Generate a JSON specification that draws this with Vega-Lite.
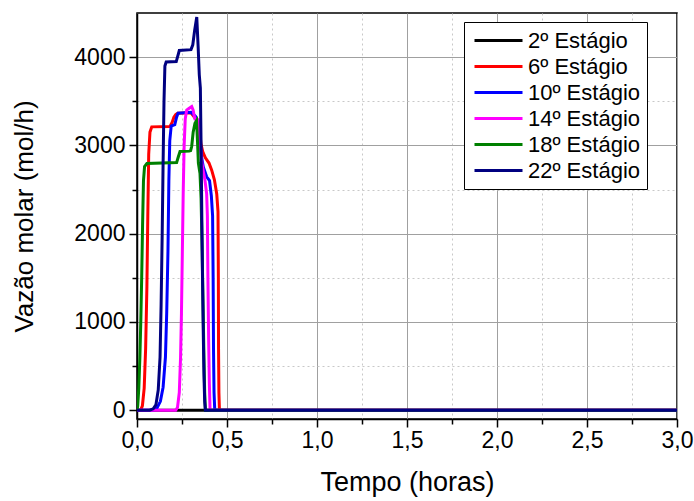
{
  "$schema": "https://vega.github.io/schema/vega-lite/v6.json",
  "width": 540,
  "height": 406,
  "autosize": {"type": "none"},
  "padding": {"left": 137, "top": 13, "right": 17, "bottom": 82},
  "background": "white",
  "config": {
    "font": "Liberation Sans",
    "view": {"stroke": "black", "strokeWidth": 1.5},
    "axis": {"labelFont": "Liberation Sans", "titleFont": "Liberation Sans", "labelColor": "black", "titleColor": "black", "titleFontWeight": "normal", "domainColor": "black", "domainWidth": 1.5, "tickColor": "black", "tickWidth": 1.5}
  },
  "data": {"values": [
    {"s": "2º Estágio", "t": 0, "v": 0},
    {"s": "2º Estágio", "t": 3, "v": 0},

    {"s": "6º Estágio", "t": 0, "v": 0},
    {"s": "6º Estágio", "t": 0.02, "v": 0},
    {"s": "6º Estágio", "t": 0.03, "v": 50},
    {"s": "6º Estágio", "t": 0.04, "v": 250},
    {"s": "6º Estágio", "t": 0.048, "v": 700},
    {"s": "6º Estágio", "t": 0.055, "v": 1400},
    {"s": "6º Estágio", "t": 0.06, "v": 2200},
    {"s": "6º Estágio", "t": 0.065, "v": 2900},
    {"s": "6º Estágio", "t": 0.072, "v": 3150},
    {"s": "6º Estágio", "t": 0.082, "v": 3210},
    {"s": "6º Estágio", "t": 0.183, "v": 3215},
    {"s": "6º Estágio", "t": 0.195, "v": 3260},
    {"s": "6º Estágio", "t": 0.205, "v": 3320},
    {"s": "6º Estágio", "t": 0.215, "v": 3350},
    {"s": "6º Estágio", "t": 0.226, "v": 3365},
    {"s": "6º Estágio", "t": 0.3, "v": 3370},
    {"s": "6º Estágio", "t": 0.315, "v": 3330},
    {"s": "6º Estágio", "t": 0.33, "v": 3290},
    {"s": "6º Estágio", "t": 0.345, "v": 3250},
    {"s": "6º Estágio", "t": 0.355, "v": 3020},
    {"s": "6º Estágio", "t": 0.365, "v": 2930},
    {"s": "6º Estágio", "t": 0.38, "v": 2860},
    {"s": "6º Estágio", "t": 0.4, "v": 2800},
    {"s": "6º Estágio", "t": 0.415, "v": 2720},
    {"s": "6º Estágio", "t": 0.43, "v": 2610},
    {"s": "6º Estágio", "t": 0.443, "v": 2450},
    {"s": "6º Estágio", "t": 0.45, "v": 2250},
    {"s": "6º Estágio", "t": 0.452, "v": 1500},
    {"s": "6º Estágio", "t": 0.453, "v": 700},
    {"s": "6º Estágio", "t": 0.455, "v": 200},
    {"s": "6º Estágio", "t": 0.458, "v": 0},
    {"s": "6º Estágio", "t": 3, "v": 0},

    {"s": "10º Estágio", "t": 0, "v": 0},
    {"s": "10º Estágio", "t": 0.09, "v": 0},
    {"s": "10º Estágio", "t": 0.11, "v": 20},
    {"s": "10º Estágio", "t": 0.13, "v": 100},
    {"s": "10º Estágio", "t": 0.145, "v": 260},
    {"s": "10º Estágio", "t": 0.158, "v": 600},
    {"s": "10º Estágio", "t": 0.165, "v": 1100},
    {"s": "10º Estágio", "t": 0.172, "v": 1800},
    {"s": "10º Estágio", "t": 0.177, "v": 2600},
    {"s": "10º Estágio", "t": 0.182, "v": 3050},
    {"s": "10º Estágio", "t": 0.19, "v": 3220},
    {"s": "10º Estágio", "t": 0.21, "v": 3235},
    {"s": "10º Estágio", "t": 0.22, "v": 3320},
    {"s": "10º Estágio", "t": 0.228, "v": 3365},
    {"s": "10º Estágio", "t": 0.3, "v": 3375},
    {"s": "10º Estágio", "t": 0.325, "v": 3330},
    {"s": "10º Estágio", "t": 0.345, "v": 3150},
    {"s": "10º Estágio", "t": 0.36, "v": 2850},
    {"s": "10º Estágio", "t": 0.368, "v": 2757},
    {"s": "10º Estágio", "t": 0.387, "v": 2644},
    {"s": "10º Estágio", "t": 0.403, "v": 2600},
    {"s": "10º Estágio", "t": 0.413, "v": 2430},
    {"s": "10º Estágio", "t": 0.42, "v": 2200},
    {"s": "10º Estágio", "t": 0.423, "v": 1500},
    {"s": "10º Estágio", "t": 0.425, "v": 700},
    {"s": "10º Estágio", "t": 0.428, "v": 200},
    {"s": "10º Estágio", "t": 0.432, "v": 0},
    {"s": "10º Estágio", "t": 3, "v": 0},

    {"s": "14º Estágio", "t": 0, "v": 0},
    {"s": "14º Estágio", "t": 0.215, "v": 0},
    {"s": "14º Estágio", "t": 0.225, "v": 30},
    {"s": "14º Estágio", "t": 0.235, "v": 200},
    {"s": "14º Estágio", "t": 0.242, "v": 600},
    {"s": "14º Estágio", "t": 0.247, "v": 1100},
    {"s": "14º Estágio", "t": 0.252, "v": 1800},
    {"s": "14º Estágio", "t": 0.257, "v": 2500},
    {"s": "14º Estágio", "t": 0.262, "v": 3000},
    {"s": "14º Estágio", "t": 0.268, "v": 3300},
    {"s": "14º Estágio", "t": 0.276, "v": 3400},
    {"s": "14º Estágio", "t": 0.29, "v": 3420},
    {"s": "14º Estágio", "t": 0.304, "v": 3440},
    {"s": "14º Estágio", "t": 0.312, "v": 3400},
    {"s": "14º Estágio", "t": 0.318, "v": 3330},
    {"s": "14º Estágio", "t": 0.322, "v": 3300},
    {"s": "14º Estágio", "t": 0.34, "v": 3290},
    {"s": "14º Estágio", "t": 0.348, "v": 3100},
    {"s": "14º Estágio", "t": 0.36, "v": 2800},
    {"s": "14º Estágio", "t": 0.378, "v": 2600},
    {"s": "14º Estágio", "t": 0.387, "v": 2450},
    {"s": "14º Estágio", "t": 0.391, "v": 2200},
    {"s": "14º Estágio", "t": 0.394, "v": 1500},
    {"s": "14º Estágio", "t": 0.398, "v": 800},
    {"s": "14º Estágio", "t": 0.402, "v": 300},
    {"s": "14º Estágio", "t": 0.406, "v": 0},
    {"s": "14º Estágio", "t": 3, "v": 0},

    {"s": "18º Estágio", "t": 0, "v": 0},
    {"s": "18º Estágio", "t": 0.004, "v": 50},
    {"s": "18º Estágio", "t": 0.01, "v": 250},
    {"s": "18º Estágio", "t": 0.016, "v": 600},
    {"s": "18º Estágio", "t": 0.021, "v": 1000},
    {"s": "18º Estágio", "t": 0.026, "v": 1500},
    {"s": "18º Estágio", "t": 0.031, "v": 2100},
    {"s": "18º Estágio", "t": 0.036, "v": 2600},
    {"s": "18º Estágio", "t": 0.042, "v": 2760},
    {"s": "18º Estágio", "t": 0.055, "v": 2795},
    {"s": "18º Estágio", "t": 0.22, "v": 2805},
    {"s": "18º Estágio", "t": 0.228, "v": 2860},
    {"s": "18º Estágio", "t": 0.239, "v": 2930},
    {"s": "18º Estágio", "t": 0.29, "v": 2935},
    {"s": "18º Estágio", "t": 0.298, "v": 2940},
    {"s": "18º Estágio", "t": 0.304, "v": 2990},
    {"s": "18º Estágio", "t": 0.312, "v": 3150},
    {"s": "18º Estágio", "t": 0.322, "v": 3250},
    {"s": "18º Estágio", "t": 0.331, "v": 3280},
    {"s": "18º Estágio", "t": 0.336, "v": 3050},
    {"s": "18º Estágio", "t": 0.341, "v": 2800},
    {"s": "18º Estágio", "t": 0.35, "v": 2680},
    {"s": "18º Estágio", "t": 0.356, "v": 2400},
    {"s": "18º Estágio", "t": 0.362, "v": 1800},
    {"s": "18º Estágio", "t": 0.367, "v": 1200},
    {"s": "18º Estágio", "t": 0.372, "v": 600},
    {"s": "18º Estágio", "t": 0.376, "v": 200},
    {"s": "18º Estágio", "t": 0.38, "v": 0},
    {"s": "18º Estágio", "t": 3, "v": 0},

    {"s": "22º Estágio", "t": 0, "v": 0},
    {"s": "22º Estágio", "t": 0.07, "v": 0},
    {"s": "22º Estágio", "t": 0.09, "v": 15},
    {"s": "22º Estágio", "t": 0.105, "v": 60},
    {"s": "22º Estágio", "t": 0.118, "v": 230},
    {"s": "22º Estágio", "t": 0.128, "v": 600},
    {"s": "22º Estágio", "t": 0.134, "v": 1200},
    {"s": "22º Estágio", "t": 0.14, "v": 2000},
    {"s": "22º Estágio", "t": 0.145, "v": 2800},
    {"s": "22º Estágio", "t": 0.15, "v": 3500},
    {"s": "22º Estágio", "t": 0.155, "v": 3900},
    {"s": "22º Estágio", "t": 0.162, "v": 3945},
    {"s": "22º Estágio", "t": 0.218, "v": 3950},
    {"s": "22º Estágio", "t": 0.225, "v": 4000},
    {"s": "22º Estágio", "t": 0.235, "v": 4075},
    {"s": "22º Estágio", "t": 0.3, "v": 4085},
    {"s": "22º Estágio", "t": 0.31, "v": 4140},
    {"s": "22º Estágio", "t": 0.32, "v": 4300},
    {"s": "22º Estágio", "t": 0.332, "v": 4455},
    {"s": "22º Estágio", "t": 0.34, "v": 4100},
    {"s": "22º Estágio", "t": 0.346, "v": 3800},
    {"s": "22º Estágio", "t": 0.352, "v": 3650},
    {"s": "22º Estágio", "t": 0.356, "v": 3000},
    {"s": "22º Estágio", "t": 0.36, "v": 2200},
    {"s": "22º Estágio", "t": 0.364, "v": 1500},
    {"s": "22º Estágio", "t": 0.368, "v": 900},
    {"s": "22º Estágio", "t": 0.372, "v": 400},
    {"s": "22º Estágio", "t": 0.376, "v": 100},
    {"s": "22º Estágio", "t": 0.38, "v": 0},
    {"s": "22º Estágio", "t": 3, "v": 0}
  ]},
  "mark": {"type": "line", "strokeWidth": 3, "clip": true},
  "encoding": {
    "x": {
      "field": "t", "type": "quantitative",
      "scale": {"domain": [0, 3], "nice": false, "zero": false},
      "axis": {
        "title": "Tempo (horas)", "titleFontSize": 27, "titlePadding": 17,
        "values": [0, 0.25, 0.5, 0.75, 1, 1.25, 1.5, 1.75, 2, 2.25, 2.5, 2.75, 3],
        "labelExpr": "(datum.value * 2) % 1 === 0 ? replace(format(datum.value, '.1f'), '.', ',') : ''",
        "labelFontSize": 23, "labelPadding": 2, "labelFlush": false, "labelOverlap": false,
        "tickSize": {"condition": {"test": "(datum.value * 2) % 1 !== 0", "value": 5}, "value": 8},
        "grid": true,
        "gridColor": {"condition": {"test": "(datum.value * 2) % 1 !== 0", "value": "#c8c8c8"}, "value": "#a0a0a0"},
        "gridDash": {"condition": {"test": "(datum.value * 2) % 1 !== 0", "value": [2, 3]}, "value": []},
        "gridWidth": 1
      }
    },
    "y": {
      "field": "v", "type": "quantitative",
      "scale": {"domain": [-100, 4500], "nice": false, "zero": false},
      "axis": {
        "title": "Vazão molar (mol/h)", "titleFontSize": 26, "titlePadding": 36,
        "values": [0, 500, 1000, 1500, 2000, 2500, 3000, 3500, 4000],
        "labelExpr": "datum.value % 1000 === 0 ? format(datum.value, 'd') : ''",
        "labelFontSize": 23, "labelPadding": 4, "labelFlush": false, "labelOverlap": false,
        "tickSize": {"condition": {"test": "datum.value % 1000 !== 0", "value": 5}, "value": 8},
        "grid": true,
        "gridColor": {"condition": {"test": "datum.value % 1000 !== 0", "value": "#c8c8c8"}, "value": "#a0a0a0"},
        "gridDash": {"condition": {"test": "datum.value % 1000 !== 0", "value": [2, 3]}, "value": []},
        "gridWidth": 1
      }
    },
    "color": {
      "field": "s", "type": "nominal",
      "scale": {
        "domain": ["2º Estágio", "6º Estágio", "10º Estágio", "14º Estágio", "18º Estágio", "22º Estágio"],
        "range": ["#000000", "#ff0000", "#0000ff", "#ff00ff", "#008000", "#000080"]
      },
      "legend": {
        "title": null, "orient": "none", "legendX": 327, "legendY": 9,
        "fillColor": "white", "strokeColor": "black", "padding": 7,
        "labelFontSize": 22, "labelFont": "Liberation Sans", "labelColor": "black",
        "symbolType": "M-2.4,0H2.4", "symbolSize": 400, "symbolStrokeWidth": 3,
        "symbolOffset": 16, "labelOffset": 18, "rowPadding": 3
      }
    }
  }
}
